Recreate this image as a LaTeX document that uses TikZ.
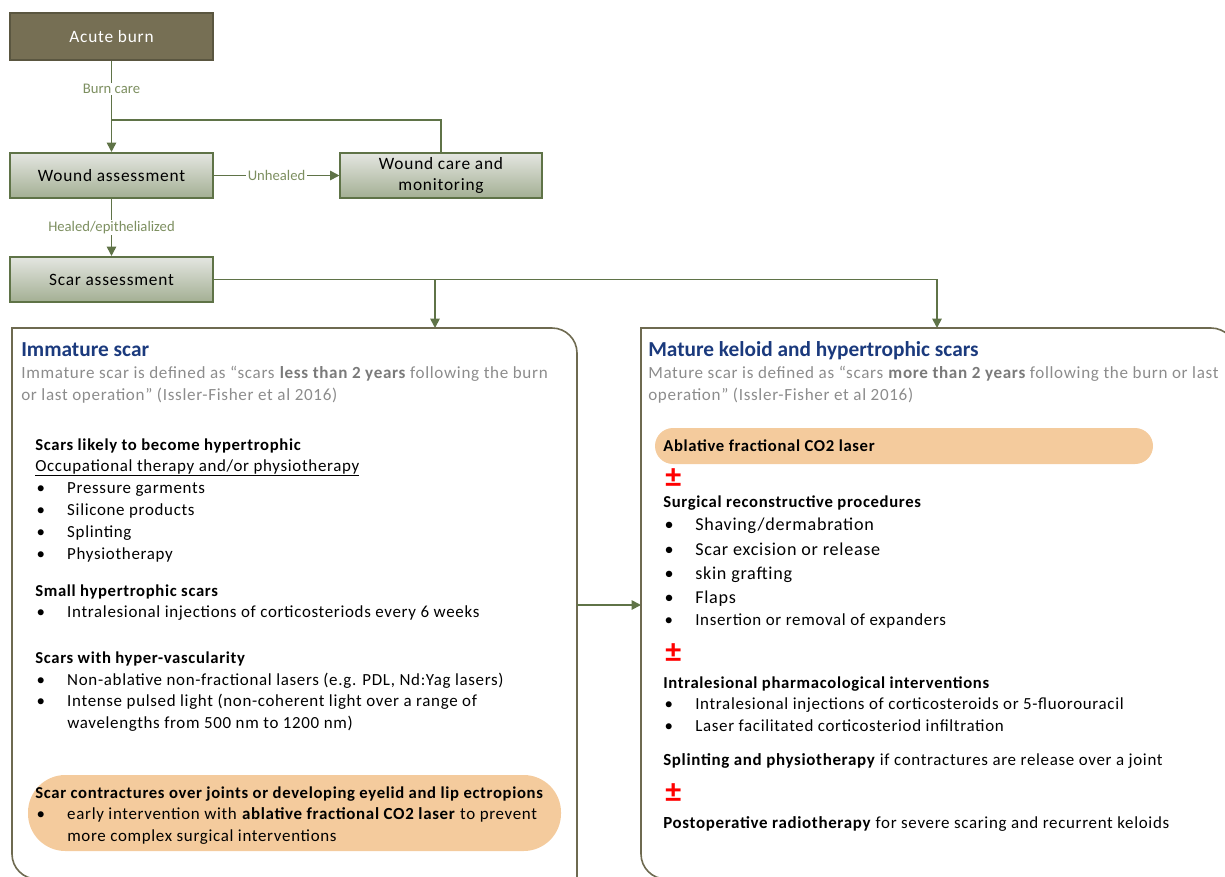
\documentclass[tikz,border=0pt]{standalone}
\usepackage{fontspec}
\setmainfont{Carlito}[LetterSpace=4]
\newfontfamily\plainfont{Carlito}
\newfontfamily\boxfont[LetterSpace=4.5]{Carlito}
\usetikzlibrary{arrows.meta, positioning}

\definecolor{burnfill}{HTML}{766F54}
\definecolor{burndraw}{HTML}{5A5640}
\definecolor{flowgreen}{HTML}{5F7347}
\definecolor{boxtop}{HTML}{E4E6E1}
\definecolor{boxbot}{HTML}{A3AF93}
\definecolor{labelgreen}{HTML}{7D8F60}
\definecolor{framecol}{HTML}{6E6A50}
\definecolor{pillfill}{HTML}{F4CB9D}
\definecolor{navy}{HTML}{1B3A7D}
\definecolor{greytxt}{HTML}{8C8C8C}
\definecolor{greybold}{HTML}{7A7A7A}

% bullet with hanging indent
\newcommand\bul{\makebox[24pt][l]{\hspace{1pt}•}}

\begin{document}
\begin{tikzpicture}[
  x=0.75pt, y=-0.75pt,
  flowbox/.style={rectangle, draw=flowgreen, line width=1.3pt, top color=boxtop, bottom color=boxbot,
    minimum width=152pt, minimum height=34pt, align=center, font=\boxfont\fontsize{13}{15}\selectfont},
  burnbox/.style={flowbox, draw=burndraw, fill=burnfill, top color=burnfill, bottom color=burnfill,
    text=white, minimum height=35pt},
  arrow/.style={-{Triangle[length=7pt, width=7pt]}, flowgreen, line width=1.3pt},
  link/.style={flowgreen, line width=1.3pt},
  edgelabel/.style={fill=white, text=labelgreen, inner sep=1pt, font=\plainfont\fontsize{11}{13}\selectfont},
  frame/.style={draw=framecol, line width=1.2pt},
  title/.style={anchor=base west, inner sep=0pt, text=navy, font=\plainfont\bfseries\fontsize{16}{19}\selectfont},
  note/.style={anchor=base west, inner sep=0pt, text=greytxt, font=\fontsize{12.8}{15}\selectfont},
  head/.style={anchor=base west, inner sep=0pt, font=\bfseries\fontsize{12.5}{14}\selectfont},
  item/.style={anchor=base west, inner sep=0pt, font=\fontsize{12.7}{14}\selectfont},
  itembig/.style={item, font=\fontsize{13.6}{15}\selectfont},
  plusminus/.style={anchor=base west, inner sep=0pt, text=red, font=\plainfont\bfseries\fontsize{24}{26}\selectfont}
]

\useasboundingbox (0,0) rectangle (1225,876);

% flow at the top
\node (acute) [burnbox] at (111.5,36.5) {Acute burn};
\node (wound) [flowbox] at (111.5,175.5) {Wound assessment};
\node (care) [flowbox, minimum width=151pt] at (441,175.5) {Wound care and\\[1pt]monitoring};
\node (scar) [flowbox] at (111.5,279.5) {Scar assessment};

\coordinate (join) at (acute |- 0,120);
\coordinate (immtop) at (435,328);
\coordinate (mattop) at (937,328);
\coordinate (branch) at (immtop |- scar.east);
\coordinate (immright) at (577,605);
\coordinate (matleft) at (641,605);

\draw[arrow] (acute) -- node[edgelabel, pos=0.31] {Burn care} (wound);
\draw[link] (care.north) |- (join);
\draw[arrow] (wound) -- node[edgelabel] {Unhealed} (care);
\draw[arrow] (wound) -- node[edgelabel] {Healed/epithelialized} (scar);
\draw[arrow] (scar.east) -| (mattop);
\draw[arrow] (branch) -- (immtop);

% the two panels
\draw[frame] (577,885) -- (577,353) arc[start angle=0, end angle=-90, radius=25] -- (12,328)
  -- (12,854) arc[start angle=180, end angle=90, radius=25] -- (585,879);
\draw[frame] (1236,885) -- (1236,353) arc[start angle=0, end angle=-90, radius=25] -- (641,328)
  -- (641,854) arc[start angle=180, end angle=90, radius=25] -- (1245,879);
\draw[arrow] (immright) -- (matleft);

\fill[pillfill, rounded corners=28pt] (28,775) rectangle (561,851);
\fill[pillfill, rounded corners=13.5pt] (655,428) rectangle (1153,464);

% immature scar
\node (immtitle) [title] at (21,356) {Immature scar};
\node (immdef1) [note] at (21,378) {Immature scar is defined as “scars \textbf{\color{greybold}less than 2 years} following the burn};
\node (immdef2) [note] at (21,400) {or last operation” (Issler-Fisher et al 2016)};

\node (likely) [head] at (35,450) {Scars likely to become hypertrophic};
\node (therapy) [item] at (35,471) {\underline{Occupational therapy and/or physiotherapy}};
\node (garments) [item] at (35,493) {\bul Pressure garments};
\node (silicone) [item] at (35,515) {\bul Silicone products};
\node (splint) [item] at (35,537) {\bul Splinting};
\node (physio) [item] at (35,559) {\bul Physiotherapy};

\node (small) [head] at (35,596) {Small hypertrophic scars};
\node (inject) [item] at (35,617) {\bul Intralesional injections of corticosteriods every 6 weeks};

\node (vasc) [head] at (35,663) {Scars with hyper-vascularity};
\node (nonabl) [item] at (35,685) {\bul Non-ablative non-fractional lasers (e.g. PDL, Nd:Yag lasers)};
\node (ipl) [item] at (35,706) {\bul Intense pulsed light (non-coherent light over a range of};
\node (ipl2) [item] at (67,728) {wavelengths from 500 nm to 1200 nm)};

\node (contract) [head] at (35,798) {Scar contractures over joints or developing eyelid and lip ectropions};
\node (early) [item] at (35,819) {\bul early intervention with \textbf{ablative fractional CO2 laser} to prevent};
\node (early2) [item] at (67,841) {more complex surgical interventions};

% mature scars
\node (mattitle) [title] at (648,356) {Mature keloid and hypertrophic scars};
\node (matdef1) [note] at (648,378) {Mature scar is defined as “scars \textbf{\color{greybold}more than 2 years} following the burn or last};
\node (matdef2) [note] at (648,400) {operation” (Issler-Fisher et al 2016)};

\node (ablative) [head] at (663,451) {Ablative fractional CO2 laser};
\node (pm1) [plusminus] at (665,487) {±};
\node (surgical) [head] at (663,507) {Surgical reconstructive procedures};
\node (shaving) [itembig] at (663,530) {\bul Shaving/dermabration};
\node (excision) [itembig] at (663,555) {\bul Scar excision or release};
\node (graft) [itembig] at (663,579) {\bul skin grafting};
\node (flaps) [itembig] at (663,603) {\bul Flaps};
\node (expand) [item] at (663,625) {\bul Insertion or removal of expanders};
\node (pm2) [plusminus] at (665,662) {±};
\node (pharma) [head] at (663,688) {Intralesional pharmacological interventions};
\node (fluoro) [item] at (663,709) {\bul Intralesional injections of corticosteroids or 5-fluorouracil};
\node (infil) [item] at (663,731) {\bul Laser facilitated corticosteriod infiltration};
\node (splintphys) [item] at (663,765) {\textbf{Splinting and physiotherapy} if contractures are release over a joint};
\node (pm3) [plusminus] at (665,802) {±};
\node (radio) [item] at (663,828) {\textbf{Postoperative radiotherapy} for severe scaring and recurrent keloids};

\end{tikzpicture}
\end{document}
